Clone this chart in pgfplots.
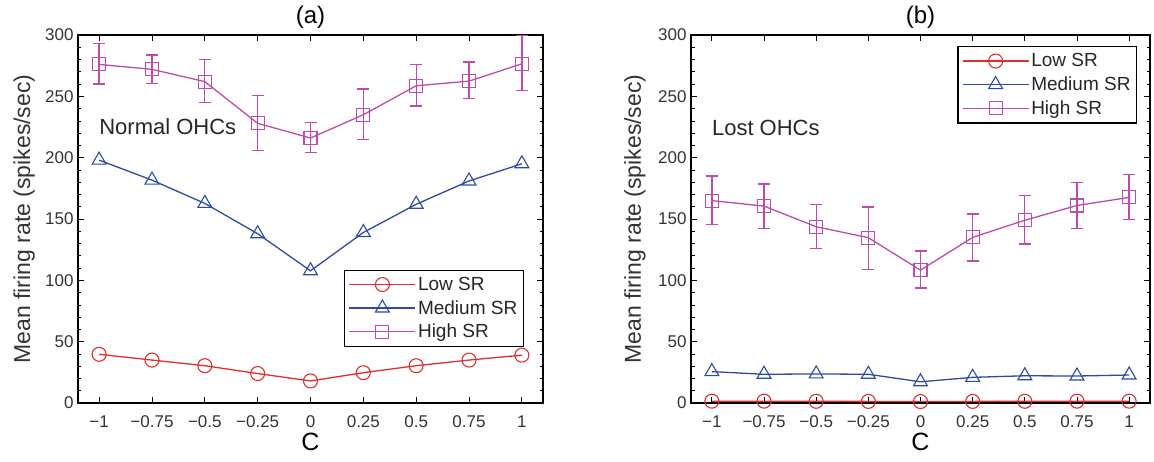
\documentclass[border=0pt]{standalone}
\usepackage{fontspec}
\setmainfont{Liberation Sans}
\usepackage{pgfplots}
\pgfplotsset{compat=1.18}
\definecolor{lowc}{RGB}{225,45,45}
\definecolor{medc}{RGB}{45,75,160}
\definecolor{highc}{RGB}{190,75,170}
\pgfplotsset{
  every axis title shift=0pt,
  mystyle/.style={
    scale only axis, height=368bp,
    xmin=-1.1, xmax=1.1, ymin=0, ymax=300,
    xtick={-1,-0.75,-0.5,-0.25,0,0.25,0.5,0.75,1},
    xticklabels={−1,−0.75,−0.5,−0.25,0,0.25,0.5,0.75,1},
    ytick={0,50,100,150,200,250,300},
    minor y tick num=4,
    tick align=inside,
    major tick length=6bp, minor tick length=3.5bp,
    major tick style={black, line width=0.8bp},
    minor tick style={black, line width=0.6bp},
    axis line style={line width=1.1bp},
    /pgf/number format/assume math mode=true,
    tick label style={font=\fontsize{17bp}{20bp}\selectfont, text=black!80},
    xticklabel style={yshift=-9bp},
    yticklabel style={xshift=-1bp},
    xlabel={C},
    xlabel style={font=\fontsize{25bp}{29bp}\selectfont, at={(axis description cs:0.5,-0.1070)}, anchor=center},
    ylabel={Mean firing rate (spikes/sec)},
    ylabel style={font=\fontsize{23bp}{27bp}\selectfont, anchor=center, text=black!80},
    title style={font=\fontsize{24bp}{28bp}\selectfont, at={(axis description cs:0.5,1.048)}, anchor=center},
    legend style={font=\fontsize{19bp}{22bp}\selectfont, draw=black, line width=1.3bp, inner xsep=4bp, inner ysep=5bp, row sep=4.5bp, text=black!85},
    legend cell align=left,
    legend image code/.code={\draw[mark repeat=2,mark phase=2, line width=1.3bp] plot coordinates {(0bp,0bp) (33bp,0bp) (66bp,0bp)};},
    lowsr/.style={color=lowc, line width=1.3bp, mark=o, mark size=7bp, mark options={line width=1.1bp}},
    medsr/.style={color=medc, line width=1.3bp, mark=triangle, mark size=8bp, mark options={line width=1.1bp}},
    highsr/.style={color=highc, line width=1.3bp, mark=square, mark size=6.5bp, mark options={line width=1.1bp}},
  }
}
\begin{document}
\begin{tikzpicture}
\useasboundingbox (-78bp,-59bp) rectangle (1076bp,403bp);
\begin{axis}[mystyle, width=465bp, title={(a)},
  ylabel style={at={(axis description cs:-0.1160,0.5)}},
  legend style={at={(axis description cs:0.959,0.152)}, anchor=south east}]
\addplot[lowsr] coordinates {(-1,39.7)(-0.75,35)(-0.5,30.4)(-0.25,24)(0,18)(0.25,24.7)(0.5,30.4)(0.75,35)(1,39)};
\addlegendentry{Low SR}
\addplot[medsr] coordinates {(-1,198)(-0.75,181.7)(-0.5,162.7)(-0.25,138)(0,107.8)(0.25,139)(0.5,162)(0.75,181)(1,195)};
\addlegendentry{Medium SR}
\addplot[highsr,
  error bars/y dir=both, error bars/y explicit,
  error bars/error bar style={color=highc, line width=1.3bp},
  error bars/error mark options={color=highc, rotate=90, mark size=6bp, line width=1.3bp}] coordinates {
 (-1,276) += (0,17) -= (0,16)
 (-0.75,272) += (0,11.6) -= (0,11.5)
 (-0.5,262) += (0,18) -= (0,17)
 (-0.25,228) += (0,22.5) -= (0,22)
 (0,216) += (0,12.7) -= (0,12)
 (0.25,235) += (0,21) -= (0,20)
 (0.5,258.6) += (0,17.4) -= (0,16.6)
 (0.75,262.4) += (0,15.6) -= (0,14.4)
 (1,276.5) += (0,23) -= (0,21.5)
};
\addlegendentry{High SR}
\node[anchor=west, font=\fontsize{22bp}{26bp}\selectfont, text=black!85, inner sep=0pt] at (axis cs:-1,225) {Normal OHCs};
\end{axis}
\begin{axis}[mystyle, width=459bp, xshift=613bp, title={(b)},
  ylabel style={at={(axis description cs:-0.1220,0.5)}},
  legend style={at={(axis description cs:0.972,0.970)}, anchor=north east}]
\addplot[lowsr] coordinates {(-1,1.5)(-0.75,1.5)(-0.5,1.4)(-0.25,1.3)(0,1.2)(0.25,1.3)(0.5,1.4)(0.75,1.5)(1,1.5)};
\addlegendentry{Low SR}
\addplot[medsr] coordinates {(-1,25.6)(-0.75,23.4)(-0.5,23.7)(-0.25,23.4)(0,17.3)(0.25,20.9)(0.5,22.2)(0.75,22)(1,22.8)};
\addlegendentry{Medium SR}
\addplot[highsr,
  error bars/y dir=both, error bars/y explicit,
  error bars/error bar style={color=highc, line width=1.3bp},
  error bars/error mark options={color=highc, rotate=90, mark size=6bp, line width=1.3bp}] coordinates {
 (-1,165) += (0,20) -= (0,19.5)
 (-0.75,160.5) += (0,18) -= (0,18)
 (-0.5,143.7) += (0,18.3) -= (0,17.7)
 (-0.25,134.8) += (0,24.9) -= (0,26)
 (0,108.3) += (0,15.5) -= (0,14.5)
 (0.25,135) += (0,19) -= (0,19.3)
 (0.5,149) += (0,20) -= (0,19.5)
 (0.75,161) += (0,19) -= (0,18.7)
 (1,167.6) += (0,18.7) -= (0,17.8)
};
\addlegendentry{High SR}
\node[anchor=west, font=\fontsize{22bp}{26bp}\selectfont, text=black!85, inner sep=0pt] at (axis cs:-1,224) {Lost OHCs};
\end{axis}
\end{tikzpicture}
\end{document}
